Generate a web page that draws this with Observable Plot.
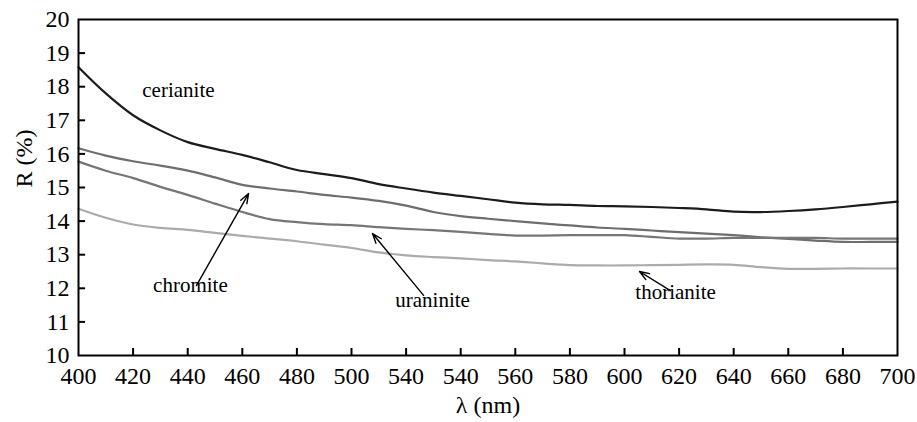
<!DOCTYPE html>
<html>
<head>
<meta charset="utf-8">
<script src="https://cdn.jsdelivr.net/npm/d3@7"></script>
<script src="https://cdn.jsdelivr.net/npm/@observablehq/plot@0.6"></script>
<style>
  html, body { margin: 0; padding: 0; background: #fff; }
  #chart { width: 917px; height: 422px; }
  #chart svg, #chart svg text { font-family: "Liberation Serif", Tinos, "Times New Roman", Times, "DejaVu Serif", "Noto Serif", serif !important; }
</style>
</head>
<body>
<div id="chart"></div>
<script>
const wavelengths = [400,410,420,430,440,450,460,470,480,490,500,510,520,530,540,550,560,570,580,590,600,610,620,630,640,650,660,670,680,690,700];
const cerianite  = [18.58,17.8,17.15,16.7,16.35,16.15,15.97,15.75,15.52,15.4,15.28,15.1,14.97,14.85,14.75,14.65,14.55,14.5,14.48,14.45,14.44,14.42,14.39,14.35,14.28,14.27,14.3,14.35,14.42,14.5,14.58];
const chromite   = [16.17,15.95,15.78,15.65,15.5,15.3,15.08,14.97,14.88,14.78,14.7,14.6,14.46,14.27,14.15,14.07,14.0,13.93,13.87,13.81,13.77,13.72,13.67,13.63,13.58,13.52,13.47,13.42,13.38,13.38,13.38];
const uraninite  = [15.77,15.5,15.28,15.02,14.78,14.52,14.27,14.06,13.97,13.91,13.88,13.82,13.77,13.73,13.68,13.62,13.57,13.57,13.58,13.58,13.58,13.53,13.48,13.48,13.5,13.5,13.5,13.5,13.48,13.48,13.48];
const thorianite = [14.37,14.1,13.9,13.8,13.74,13.65,13.56,13.48,13.4,13.3,13.2,13.07,12.98,12.93,12.89,12.84,12.8,12.74,12.69,12.68,12.68,12.69,12.7,12.71,12.7,12.63,12.58,12.58,12.59,12.59,12.59];

const seriesNames = ["cerianite", "chromite", "uraninite", "thorianite"];
const seriesColors = ["#1c1c1c", "#6e6e6e", "#767676", "#ababab"];

const xTicks = [400,420,440,460,480,500,520,540,560,580,600,620,640,660,680,700];
const xTickLabels = ["400","420","440","460","480","500","540","540","560","580","600","620","640","660","680","700"];
const yTicks = [10,11,12,13,14,15,16,17,18,19,20];
const yTickLabels = ["10","11","12","13","14","15","16","17","18","19","20"];
const xLabel = "λ (nm)";
const yLabel = "R (%)";

// annotations (data coordinates)
const labelNames = ["cerianite", "chromite", "uraninite", "thorianite"];
const labelX = [436.6, 441, 529.7, 618.7];
const labelY = [17.89, 12.08, 11.64, 11.875];
const labelAnchor = ["middle", "end", "start", "start"];
const arrowX1 = [443.2, 526.4, 616.8];
const arrowY1 = [12.08, 11.79, 11.93];
const arrowX2 = [462.3, 507.7, 605.5];
const arrowY2 = [14.82, 13.63, 12.5];

const allSeries = [cerianite, chromite, uraninite, thorianite];
const rows = [];
seriesNames.forEach((name, i) => {
  wavelengths.forEach((w, j) => rows.push({series: name, x: w, y: allSeries[i][j]}));
});
const labels = labelNames.map((t, i) => ({t, x: labelX[i], y: labelY[i], a: labelAnchor[i]}));
const arrows = arrowX1.map((x1, i) => ({x1, y1: arrowY1[i], x2: arrowX2[i], y2: arrowY2[i]}));
const serif = "'Liberation Serif', Tinos, 'Times New Roman', 'DejaVu Serif', serif";

const chart = Plot.plot({
  width: 917,
  height: 422,
  marginLeft: 78,
  marginRight: 20,
  marginTop: 19,
  marginBottom: 67,
  style: {fontFamily: serif, fontSize: "24px", color: "#000", background: "#fff"},
  x: {domain: [400, 700]},
  y: {domain: [10, 20]},
  color: {domain: seriesNames, range: seriesColors},
  marks: [
    Plot.axisX({ticks: xTicks, tickSize: 0, tickPadding: 11, tickFormat: (d) => xTickLabels[xTicks.indexOf(d)], label: null, fontSize: 24, fontFamily: serif}),
    Plot.axisY({ticks: yTicks, tickSize: 0, tickPadding: 9, tickFormat: (d) => yTickLabels[yTicks.indexOf(d)], label: null, fontSize: 24, fontFamily: serif}),
    Plot.text([xLabel], {frameAnchor: "bottom", text: d => d, dy: 57, fontSize: 24, fontFamily: serif, fill: "#000"}),
    Plot.text([yLabel], {frameAnchor: "left", text: d => d, dx: -54, rotate: -90, fontSize: 24, fontFamily: serif, fill: "#000"}),
    Plot.ruleX(xTicks.slice(1, -1), {x: d => d, y1: 10, y2: 10.21, stroke: "#000", strokeWidth: 2}),
    Plot.ruleY(yTicks.slice(1, -1), {y: d => d, x1: 400, x2: 402.6, stroke: "#000", strokeWidth: 2}),
    Plot.line(rows, {x: "x", y: "y", z: "series", stroke: "series", strokeWidth: 2.2, curve: "catmull-rom"}),
    Plot.text(labels, {x: "x", y: "y", text: "t", textAnchor: d => d.a, fontSize: 21, fontFamily: serif, fill: "#000"}),
    Plot.arrow(arrows, {x1: "x1", y1: "y1", x2: "x2", y2: "y2", stroke: "#000", strokeWidth: 1.4, headLength: 11, headAngle: 40}),
    Plot.frame({stroke: "#000", strokeWidth: 2})
  ]
});
document.getElementById("chart").appendChild(chart);
</script>
</body>
</html>
